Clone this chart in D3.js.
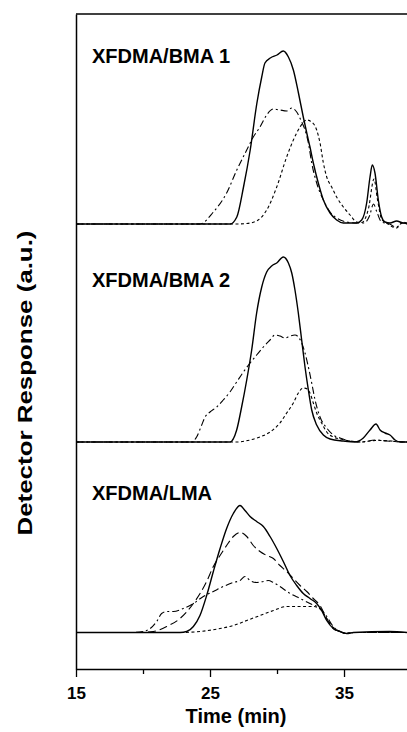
<!DOCTYPE html>
<html>
<head>
<meta charset="utf-8">
<script src="https://cdn.jsdelivr.net/npm/d3@7"></script>
<style>
  html, body { margin: 0; padding: 0; background: #fff; }
  svg { display: block; font-family: "Liberation Sans", Arial, Helvetica, sans-serif; }
</style>
</head>
<body>
<script>
// time (min), response (a.u.)
const bma1Solid = [[15,0],[26.5,0],[27.0,0.07],[27.5,0.37],[28.0,0.74],[28.5,1.21],[28.86,1.47],[29.1,1.61],[29.5,1.66],[30.0,1.69],[30.47,1.73],[30.85,1.67],[31.22,1.54],[31.6,1.31],[31.96,1.07],[32.22,0.91],[32.46,0.77],[32.71,0.61],[33.08,0.41],[33.46,0.24],[33.96,0.11],[34.45,0.04],[34.95,0.01],[35.95,0.01],[36.32,0.04],[36.69,0.21],[36.94,0.47],[37.11,0.59],[37.31,0.51],[37.56,0.24],[37.81,0.07],[38.06,0.02],[38.43,0.01],[38.93,0.03],[39.43,0.01],[39.7,0.01]];
const bma1DashDot = [[15,0],[24.25,0],[25.25,0.12],[26.24,0.31],[27.0,0.54],[27.74,0.74],[28.23,0.87],[28.73,0.97],[29.23,1.09],[29.73,1.15],[30.22,1.14],[30.72,1.13],[31.1,1.16],[31.47,1.12],[31.84,1.02],[32.09,0.94],[32.34,0.81],[32.59,0.61],[32.96,0.41],[33.46,0.24],[33.96,0.12],[34.45,0.06],[35.2,0.02],[35.95,0.01],[36.5,0.01],[36.9,0.08],[37.2,0.2],[37.45,0.12],[37.8,0.02],[38.4,0],[38.9,-0.03],[39.4,0.01],[39.7,0]];
const bma1Dotted = [[15,0],[27.0,0],[27.74,0.005],[28.48,0.03],[29.23,0.14],[29.98,0.37],[30.72,0.67],[31.22,0.84],[31.72,0.97],[32.22,1.04],[32.59,1.02],[32.96,0.94],[33.21,0.81],[33.46,0.61],[33.71,0.47],[34.08,0.37],[34.45,0.27],[34.95,0.17],[35.45,0.09],[35.95,0.02],[36.32,0.015],[36.82,0.15],[37.24,0.45],[37.49,0.25],[37.81,0.05],[38.18,0.01],[38.9,-0.04],[39.4,0.02],[39.7,0]];

const bma2Solid = [[15,0],[26.49,0],[26.99,0.12],[27.36,0.35],[27.74,0.62],[28.11,0.92],[28.48,1.29],[28.86,1.55],[29.23,1.70],[29.6,1.76],[29.98,1.79],[30.47,1.85],[30.85,1.79],[31.1,1.69],[31.34,1.52],[31.59,1.29],[31.84,1.02],[32.09,0.75],[32.34,0.52],[32.59,0.32],[32.96,0.17],[33.46,0.07],[33.96,0.03],[34.95,0.01],[35.82,0],[36.44,0.04],[36.94,0.12],[37.39,0.18],[37.69,0.12],[38.06,0.09],[38.43,0.07],[38.81,0.02],[39.18,0],[39.7,0]];
const bma2DashDot = [[15,0],[23.63,0],[24.0,0.05],[24.38,0.17],[24.63,0.25],[25.0,0.30],[25.5,0.35],[25.99,0.42],[26.49,0.50],[26.99,0.60],[27.49,0.70],[27.99,0.79],[28.48,0.87],[28.98,0.95],[29.48,1.02],[29.85,1.07],[30.22,1.06],[30.6,1.04],[30.97,1.06],[31.34,1.07],[31.59,1.05],[31.84,0.99],[32.09,0.89],[32.34,0.75],[32.59,0.59],[32.84,0.42],[33.21,0.25],[33.71,0.14],[34.2,0.07],[34.7,0.04],[35.45,0.01],[36.2,0],[37.4,0.02],[38.2,0.01],[39.7,0]];
const bma2Dotted = [[15,0],[26.99,0],[27.99,0.02],[28.73,0.05],[29.48,0.10],[30.22,0.19],[30.72,0.29],[31.22,0.39],[31.59,0.49],[31.96,0.54],[32.26,0.53],[32.46,0.49],[32.71,0.39],[32.96,0.29],[33.33,0.19],[33.71,0.10],[34.2,0.05],[34.7,0.03],[35.45,0.01],[36.2,0],[37.4,0.015],[38.5,0.01],[39.2,0],[39.7,0]];

const lmaSolid = [[15,0],[22.76,0],[23.26,0.01],[23.76,0.06],[24.25,0.17],[24.75,0.37],[25.25,0.61],[25.75,0.84],[26.24,1.04],[26.74,1.19],[27.24,1.27],[27.61,1.22],[27.99,1.16],[28.48,1.11],[28.98,1.06],[29.48,0.96],[29.98,0.84],[30.47,0.71],[30.97,0.57],[31.47,0.47],[31.96,0.39],[32.46,0.34],[32.96,0.29],[33.33,0.22],[33.71,0.12],[34.2,0.04],[34.7,0.01],[35.2,-0.01],[35.7,0],[38.4,0.01],[39.7,0]];
const lmaDashed = [[15,0],[19.78,0],[20.77,0.01],[21.77,0.06],[22.76,0.14],[23.76,0.29],[24.75,0.51],[25.25,0.66],[25.75,0.77],[26.24,0.87],[26.74,0.96],[27.24,1.00],[27.74,0.96],[28.23,0.87],[28.73,0.81],[29.23,0.77],[29.73,0.74],[30.22,0.67],[30.72,0.61],[31.22,0.54],[31.72,0.47],[32.22,0.41],[32.71,0.34],[33.21,0.27],[33.71,0.14],[34.2,0.04],[34.7,0.01],[35.2,-0.01],[35.7,0],[39.7,0]];
const lmaDashDot = [[15,0],[19.28,0],[20.27,0.02],[21.02,0.11],[21.39,0.19],[21.77,0.21],[22.26,0.21],[23.01,0.24],[23.76,0.29],[24.5,0.36],[25.25,0.41],[25.99,0.46],[26.74,0.50],[27.24,0.52],[27.61,0.56],[27.99,0.52],[28.48,0.50],[28.98,0.51],[29.35,0.52],[29.73,0.50],[30.22,0.46],[30.97,0.39],[31.72,0.34],[32.46,0.29],[33.21,0.24],[33.71,0.16],[34.2,0.06],[34.7,0.01],[35.2,-0.01],[35.7,0],[39.7,0]];
const lmaDotted = [[15,0],[22.76,0],[24.25,0.01],[25.75,0.04],[26.74,0.07],[27.74,0.12],[28.73,0.17],[29.73,0.22],[30.72,0.26],[31.72,0.26],[32.71,0.26],[33.33,0.22],[33.71,0.14],[34.2,0.05],[34.7,0.01],[35.2,-0.01],[35.7,0],[39.7,0]];

const panelNames = ["XFDMA/BMA 1", "XFDMA/BMA 2", "XFDMA/LMA"];
const panelOffsets = [4.45, 2.27, 0.365];   // stacked baselines (a.u.)
const majorTicks = [15, 25, 35];
const minorTicks = [20, 30];

const dashes = {solid: null, dashed: "8,4", dashdot: "7,3,2,3", dotted: "3,2.5"};

const panels = [
  {name: panelNames[0], offset: panelOffsets[0], labelRise: 1.61, curves: [
    {style: "dotted", data: bma1Dotted},
    {style: "dashdot", data: bma1DashDot},
    {style: "solid", data: bma1Solid}]},
  {name: panelNames[1], offset: panelOffsets[1], labelRise: 1.55, curves: [
    {style: "dotted", data: bma2Dotted},
    {style: "dashdot", data: bma2DashDot},
    {style: "solid", data: bma2Solid}]},
  {name: panelNames[2], offset: panelOffsets[2], labelRise: 1.33, curves: [
    {style: "dotted", data: lmaDotted},
    {style: "dashdot", data: lmaDashDot},
    {style: "dashed", data: lmaDashed},
    {style: "solid", data: lmaSolid}]}
];

const width = 407, height = 732;
const margin = {top: 14, right: 0, bottom: 63, left: 76};

const x = d3.scaleLinear()
    .domain([15, 39.7])
    .range([margin.left, width - margin.right]);

const y = d3.scaleLinear()
    .domain([0, 6.55])
    .range([height - margin.bottom, margin.top]);

const svg = d3.select("body").append("svg")
    .attr("width", width)
    .attr("height", height);

svg.append("defs").append("clipPath")
    .attr("id", "plot")
  .append("rect")
    .attr("x", margin.left)
    .attr("y", margin.top)
    .attr("width", width - margin.left)
    .attr("height", height - margin.top - margin.bottom);

const line = offset => d3.line()
    .x(d => x(d[0]))
    .y(d => y(d[1] + offset))
    .curve(d3.curveMonotoneX);

const g = svg.selectAll("g.panel")
  .data(panels)
  .join("g")
    .attr("class", "panel")
    .attr("clip-path", "url(#plot)");

g.selectAll("path")
  .data(p => p.curves.map(c => ({...c, offset: p.offset})))
  .join("path")
    .attr("fill", "none")
    .attr("stroke", "#000")
    .attr("stroke-width", d => d.style === "solid" ? 1.4 : 1.1)
    .attr("stroke-dasharray", d => dashes[d.style])
    .attr("d", d => line(d.offset)(d.data));

svg.selectAll("text.panel-label")
  .data(panels)
  .join("text")
    .attr("class", "panel-label")
    .attr("x", 92)
    .attr("y", d => y(d.offset + d.labelRise))
    .attr("font-size", 20)
    .attr("font-weight", "bold")
    .text(d => d.name);

// frame
svg.append("line")
    .attr("x1", margin.left).attr("x2", width)
    .attr("y1", margin.top).attr("y2", margin.top)
    .attr("stroke", "#000").attr("stroke-width", 1.5);

svg.append("g")
    .attr("transform", `translate(${margin.left},0)`)
    .call(d3.axisLeft(y).tickValues([]).tickSizeOuter(0))
    .call(g => g.select(".domain").attr("stroke-width", 1.5));

svg.append("g")
    .attr("transform", `translate(0,${height - margin.bottom})`)
    .call(d3.axisBottom(x).tickValues(minorTicks).tickSize(5).tickFormat(""))
    .call(g => g.select(".domain").remove())
    .call(g => g.selectAll("line").attr("stroke-width", 1.3));

svg.append("g")
    .attr("transform", `translate(0,${height - margin.bottom})`)
    .call(d3.axisBottom(x).tickValues(majorTicks).tickSize(8).tickSizeOuter(0).tickPadding(10))
    .call(g => g.select(".domain").attr("stroke-width", 1.5))
    .call(g => g.selectAll("line").attr("stroke-width", 1.3))
    .call(g => g.selectAll("text")
        .attr("font-size", 17)
        .attr("font-weight", "bold")
        .attr("font-family", "'Liberation Sans', Arial, sans-serif")
        .attr("fill", "#000"));

svg.append("text")
    .attr("x", 236)
    .attr("y", 723)
    .attr("text-anchor", "middle")
    .attr("font-size", 20)
    .attr("font-weight", "bold")
    .text("Time (min)");

svg.append("text")
    .attr("transform", `translate(32,383) rotate(-90)`)
    .attr("text-anchor", "middle")
    .attr("font-size", 20)
    .attr("font-weight", "bold")
    .attr("textLength", 305)
    .attr("lengthAdjust", "spacingAndGlyphs")
    .text("Detector Response (a.u.)");
</script>
</body>
</html>
